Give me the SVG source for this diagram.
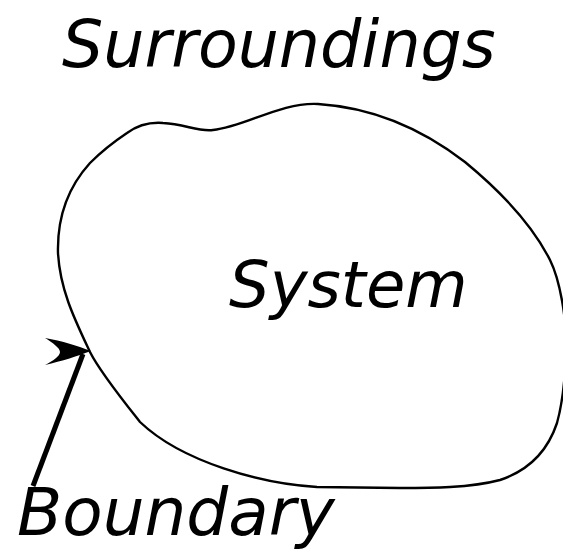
<svg xmlns="http://www.w3.org/2000/svg" width="563" height="549" viewBox="0 0 563 549">
<style>
.lbl{font-family:"DejaVu Sans",sans-serif;font-style:italic;fill:#000}
.blob{fill:none;stroke:#000;stroke-width:2.4}
</style>
<rect width="563" height="549" fill="#fff"/>
<g id="surroundings"><text class="lbl" x="62" y="67" font-size="65">Surroundings</text></g>
<g id="system">
<path class="blob" d="M 127,133 C 138,125 150,122 163,123 C 185,124 198,132 213,130 C 245,127 280,102 318,104 C 380,108 430,135 465,162 C 505,195 535,230 550,260 C 560,280 567,320 566,350 C 565,385 562,405 557,423 C 548,450 530,470 500,480 C 470,488 430,488 400,488 L 317,487 C 262,484 182,462 140,422 C 125,403 100,372 90,352 C 75,320 60,290 58,253 C 57,215 70,185 90,163 C 103,150 115,141 127,133 Z"/>
<text class="lbl" x="229" y="307" font-size="64">System</text>
</g>
<g id="boundary"><text class="lbl" x="17" y="535" font-size="66">Boundary</text></g>
<g id="connectors">
<line x1="33" y1="486" x2="83" y2="354" stroke="#000" stroke-width="5"/>
<path d="M 91,351 C 78,346 62,341 45,338 C 53,343 60,348 60,352 C 60,356 53,361 45,365 C 62,361 78,356 91,351 Z" fill="#000"/>
</g>
</svg>
